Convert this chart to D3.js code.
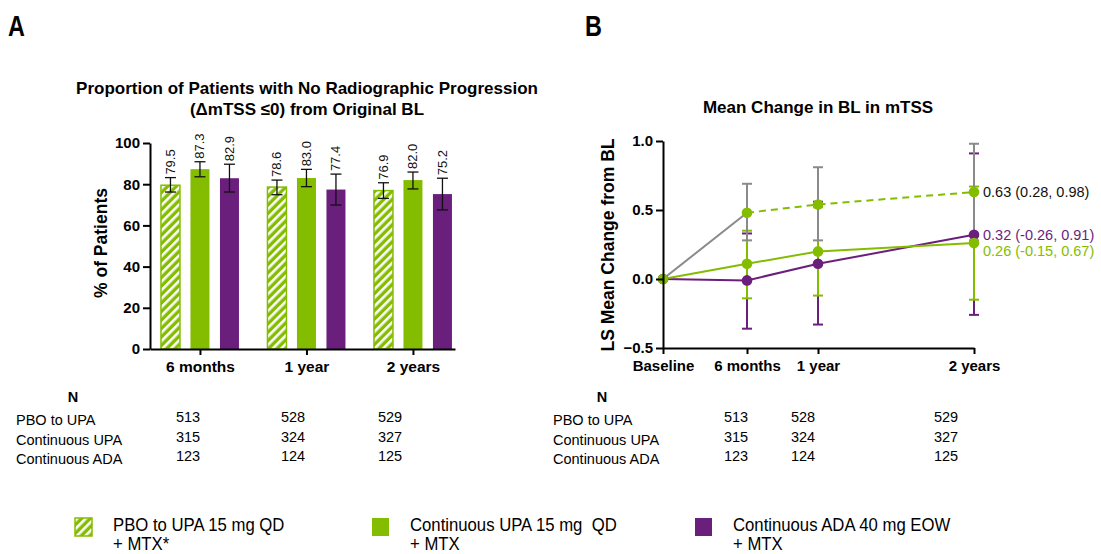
<!DOCTYPE html>
<html>
<head>
<meta charset="utf-8">
<script src="https://cdn.jsdelivr.net/npm/d3@7"></script>
<style>
  body { margin: 0; background: #fff; }
  svg { display: block; font-family: Arial, "Liberation Sans", sans-serif; }
  .bold { font-weight: bold; }
</style>
</head>
<body>
<script>
// ---- data: panel A ----
var groups = ["6 months", "1 year", "2 years"];
var seriesA = ["pbo", "upa", "ada"];
var pctPbo = [79.5, 78.6, 76.9];
var loPbo = [76.2, 74.9, 73.1];
var hiPbo = [83.2, 82.0, 80.7];
var pctUpa = [87.3, 83.0, 82.0];
var loUpa = [83.6, 78.8, 77.7];
var hiUpa = [90.9, 87.2, 85.9];
var pctAda = [82.9, 77.4, 75.2];
var loAda = [76.2, 69.9, 67.5];
var hiAda = [89.7, 84.9, 82.9];
var yTicksA = [0, 20, 40, 60, 80, 100];

// ---- data: panel B ----
var timeLabels = ["Baseline", "6 months", "1 year", "2 years"];
var timeMonths = [0, 6, 12, 24];
var pboMonths = [0, 6];
var pboVals = [0, 0.48];
var switchMonths = [6, 12, 24];
var switchVals = [0.48, 0.54, 0.63];
var switchLo = [0.28, 0.28, 0.28];
var switchHi = [0.69, 0.81, 0.98];
var upaVals = [0, 0.11, 0.20, 0.26];
var upaLo = [null, -0.14, -0.12, -0.15];
var upaHi = [null, 0.35, 0.52, 0.67];
var adaVals = [0, -0.01, 0.11, 0.32];
var adaLo = [null, -0.36, -0.33, -0.26];
var adaHi = [null, 0.33, 0.56, 0.91];
var yTicksB = [-0.5, 0, 0.5, 1.0];
var endLabels = ["0.63 (0.28, 0.98)", "0.32 (-0.26, 0.91)", "0.26 (-0.15, 0.67)"];

// ---- N tables ----
var rowNames = ["PBO to UPA", "Continuous UPA", "Continuous ADA"];
var nPbo = [513, 528, 529];
var nUpa = [315, 324, 327];
var nAda = [123, 124, 125];

var legendLines = [
    ["PBO to UPA 15 mg QD", "+ MTX*"],
    ["Continuous UPA 15 mg  QD", "+ MTX"],
    ["Continuous ADA 40 mg EOW", "+ MTX"]
];

var GREEN = "#84bd00", PURPLE = "#6b1f7c", GRAY = "#8a8a8a";

var svg = d3.select("body").append("svg").attr("width", 1101).attr("height", 554);

var defs = svg.append("defs");
var pat = defs.append("pattern").attr("id", "hatch")
    .attr("patternUnits", "userSpaceOnUse")
    .attr("width", 6).attr("height", 6)
    .attr("patternTransform", "rotate(45)");
pat.append("rect").attr("width", 6).attr("height", 6).attr("fill", GREEN);
pat.append("rect").attr("width", 2.6).attr("height", 6).attr("fill", "#fff");

function styleAxis(g) {
    g.selectAll("path, line").attr("stroke", "#000").attr("stroke-width", 2);
    g.selectAll("text").attr("fill", "#000").attr("class", "bold")
        .style("font-family", "Arial, 'Liberation Sans', sans-serif");
}

// panel letters (condensed look)
[["A", 8], ["B", 585]].forEach(function(p) {
    svg.append("text").attr("transform", "translate(" + p[1] + ",36) scale(0.78,1)").text(p[0])
        .style("font-weight", "bold").style("font-size", "30px");
});

// ================= Panel A =================
function drawPanelA() {
    var yA = d3.scaleLinear().domain([0, 100]).range([349, 143]);
    var xA = d3.scalePoint().domain(groups).range([150, 455]).padding(0.432).align(0.543);
    var xInner = d3.scalePoint().domain(seriesA).range([-29.5, 29.5]);
    var barW = 19;

    svg.append("text").attr("class", "bold").attr("text-anchor", "middle")
        .attr("x", 307).attr("y", 94).style("font-size", "17px")
        .text("Proportion of Patients with No Radiographic Progression");
    svg.append("text").attr("class", "bold").attr("text-anchor", "middle")
        .attr("x", 307).attr("y", 115).style("font-size", "17px")
        .text("(\u0394mTSS \u22640) from Original BL");

    var data = [];
    groups.forEach(function(g, i) {
        data.push({ g: g, s: "pbo", v: pctPbo[i], lo: loPbo[i], hi: hiPbo[i] });
        data.push({ g: g, s: "upa", v: pctUpa[i], lo: loUpa[i], hi: hiUpa[i] });
        data.push({ g: g, s: "ada", v: pctAda[i], lo: loAda[i], hi: hiAda[i] });
    });
    var fills = { pbo: "url(#hatch)", upa: GREEN, ada: PURPLE };

    svg.append("g").selectAll("rect").data(data).enter().append("rect")
        .attr("x", function(d) { return xA(d.g) + xInner(d.s) - barW / 2; })
        .attr("y", function(d) { return yA(d.v); })
        .attr("width", barW)
        .attr("height", function(d) { return yA(0) - yA(d.v); })
        .attr("fill", function(d) { return fills[d.s]; })
        .attr("stroke", function(d) { return d.s === "pbo" ? GREEN : "none"; })
        .attr("stroke-width", 1.5);

    var eb = svg.append("g").attr("stroke", "#111").attr("stroke-width", 1.3);
    data.forEach(function(d) {
        var cx = xA(d.g) + xInner(d.s);
        eb.append("line").attr("x1", cx).attr("x2", cx).attr("y1", yA(d.lo)).attr("y2", yA(d.hi));
        eb.append("line").attr("x1", cx - 5.5).attr("x2", cx + 5.5).attr("y1", yA(d.lo)).attr("y2", yA(d.lo));
        eb.append("line").attr("x1", cx - 5.5).attr("x2", cx + 5.5).attr("y1", yA(d.hi)).attr("y2", yA(d.hi));
    });

    svg.append("g").selectAll("text").data(data).enter().append("text")
        .attr("transform", function(d) {
            return "translate(" + (xA(d.g) + xInner(d.s) + 4.5) + "," + (yA(d.hi) - 3) + ") rotate(-90)";
        })
        .style("font-size", "13px").attr("fill", "#111")
        .text(function(d) { return d.v.toFixed(1); });

    var gy = svg.append("g").attr("transform", "translate(150,0)")
        .call(d3.axisLeft(yA).tickValues(yTicksA).tickSize(7).tickSizeOuter(0).tickPadding(3));
    styleAxis(gy);
    gy.selectAll("text").style("font-size", "15px");

    var gx = svg.append("g").attr("transform", "translate(0,349)")
        .call(d3.axisBottom(xA).tickSize(6).tickSizeOuter(0).tickPadding(6));
    styleAxis(gx);
    gx.selectAll("text").style("font-size", "15.5px");

    svg.append("text").attr("class", "bold").attr("text-anchor", "middle")
        .attr("transform", "translate(107,243) rotate(-90)")
        .style("font-size", "17.5px").text("% of Patients");

    drawTable(16, 73, [188, 293, 390]);
}

// ================= Panel B =================
function drawPanelB() {
    var yB = d3.scaleLinear().domain([-0.5, 1.0]).range([348, 141]);
    var xB = d3.scaleLinear().domain(timeMonths).range([663, 747, 818, 974]);

    svg.append("text").attr("class", "bold").attr("text-anchor", "middle")
        .attr("x", 818).attr("y", 113).style("font-size", "17px")
        .text("Mean Change in BL in mTSS");

    function errorBars(months, lo, hi, color) {
        var g = svg.append("g").attr("stroke", color).attr("stroke-width", 2);
        months.forEach(function(m, i) {
            if (lo[i] === null) return;
            var cx = xB(m);
            g.append("line").attr("x1", cx).attr("x2", cx).attr("y1", yB(lo[i])).attr("y2", yB(hi[i]));
            g.append("line").attr("x1", cx - 5).attr("x2", cx + 5).attr("y1", yB(lo[i])).attr("y2", yB(lo[i]));
            g.append("line").attr("x1", cx - 5).attr("x2", cx + 5).attr("y1", yB(hi[i])).attr("y2", yB(hi[i]));
        });
    }
    errorBars(timeMonths, adaLo, adaHi, PURPLE);
    errorBars(timeMonths, upaLo, upaHi, GREEN);
    errorBars(switchMonths, switchLo, switchHi, GRAY);

    var line = d3.line().x(function(d) { return xB(d[0]); }).y(function(d) { return yB(d[1]); });
    function series(months, vals, color, dash) {
        var pts = months.map(function(m, i) { return [m, vals[i]]; });
        svg.append("path").datum(pts).attr("d", line)
            .attr("fill", "none").attr("stroke", color).attr("stroke-width", 2)
            .attr("stroke-dasharray", dash || null);
        return pts;
    }
    series(pboMonths, pboVals, GRAY);
    var swPts = series(switchMonths, switchVals, GREEN, "7,5");
    var adaPts = series(timeMonths, adaVals, PURPLE);
    var upaPts = series(timeMonths, upaVals, GREEN);

    function dots(pts, color) {
        svg.append("g").selectAll("circle").data(pts).enter().append("circle")
            .attr("cx", function(d) { return xB(d[0]); })
            .attr("cy", function(d) { return yB(d[1]); })
            .attr("r", 5.3).attr("fill", color);
    }
    dots(adaPts, PURPLE);
    dots(upaPts, GREEN);
    dots(swPts, GREEN);

    var lx = xB(24) + 9;
    var labs = [
        { t: endLabels[0], v: switchVals[2], c: "#111", dy: 0 },
        { t: endLabels[1], v: adaVals[3], c: PURPLE, dy: 0 },
        { t: endLabels[2], v: upaVals[3], c: GREEN, dy: 8 }
    ];
    svg.append("g").selectAll("text").data(labs).enter().append("text")
        .attr("x", lx).attr("y", function(d) { return yB(d.v) + d.dy + 5; })
        .attr("fill", function(d) { return d.c; })
        .style("font-size", "14.5px").text(function(d) { return d.t; });

    var gy = svg.append("g").attr("transform", "translate(663,0)")
        .call(d3.axisLeft(yB).tickValues(yTicksB).tickSize(7).tickSizeOuter(0).tickPadding(3)
            .tickFormat(d3.format(".1f")));
    styleAxis(gy);
    gy.selectAll("text").style("font-size", "15px");

    var gx = svg.append("g").attr("transform", "translate(0,348)")
        .call(d3.axisBottom(xB).tickValues(timeMonths).tickSize(6).tickSizeOuter(0).tickPadding(6)
            .tickFormat(function(d, i) { return timeLabels[i]; }));
    styleAxis(gx);
    gx.selectAll("text").style("font-size", "15px");

    svg.append("text").attr("class", "bold").attr("text-anchor", "middle")
        .attr("transform", "translate(614,245) rotate(-90)")
        .style("font-size", "17.5px").text("LS Mean Change from BL");

    drawTable(553, 602, [736, 803, 946]);
}

function drawTable(labelX, nX, colX) {
    var t = svg.append("g").style("font-size", "14.5px");
    t.append("text").attr("class", "bold").attr("x", nX).attr("y", 402)
        .attr("text-anchor", "middle").text("N");
    var rows = [nPbo, nUpa, nAda];
    rowNames.forEach(function(name, r) {
        t.append("text").attr("x", labelX).attr("y", 425 + r * 19.5).text(name);
        rows[r].forEach(function(n, c) {
            t.append("text").attr("x", colX[c]).attr("y", 422 + r * 19.5)
                .attr("text-anchor", "middle").text(n);
        });
    });
}

function drawLegend() {
    var fills = ["url(#hatch)", GREEN, PURPLE];
    var boxX = [75, 372, 695];
    var g = svg.append("g").style("font-size", "19px");
    legendLines.forEach(function(lines, i) {
        g.append("rect").attr("x", boxX[i]).attr("y", 518).attr("width", 17).attr("height", 18)
            .attr("fill", fills[i]).attr("stroke", i === 0 ? GREEN : "none").attr("stroke-width", 1.5);
        lines.forEach(function(s, j) {
            g.append("text")
                .attr("transform", "translate(" + (boxX[i] + 38) + "," + (531 + j * 19) + ") scale(0.88,1)")
                .style("white-space", "pre").text(s);
        });
    });
}

drawPanelA();
drawPanelB();
drawLegend();
</script>
</body>
</html>
